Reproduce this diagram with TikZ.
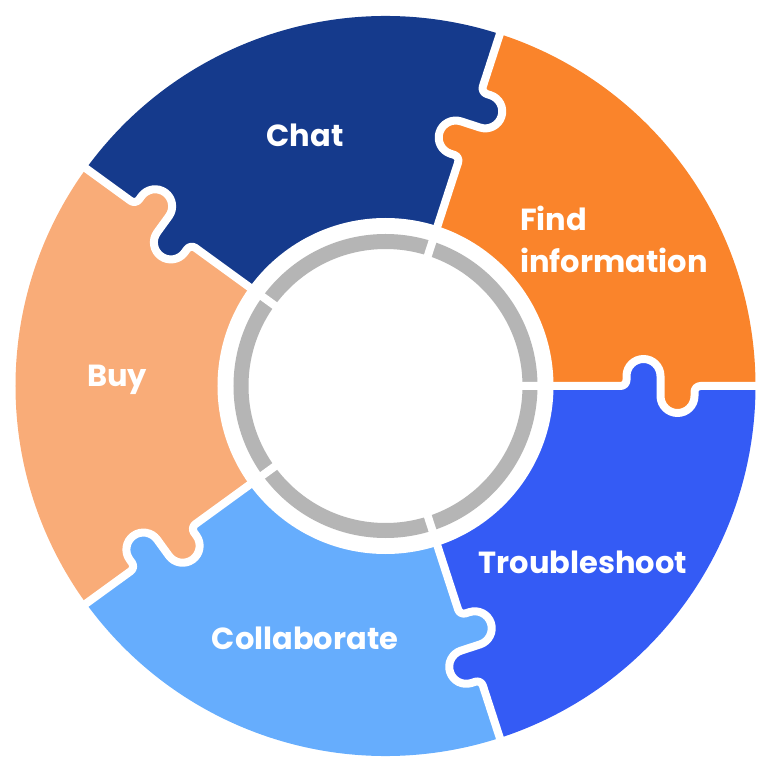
\documentclass[tikz,border=0pt]{standalone}
\usepackage{fontspec}
\setmainfont{Poppins}
\definecolor{navyC}{RGB}{21,58,140}
\definecolor{orangeC}{RGB}{250,132,43}
\definecolor{blueC}{RGB}{52,91,245}
\definecolor{lightC}{RGB}{102,173,253}
\definecolor{peachC}{RGB}{249,172,120}
\definecolor{ringC}{RGB}{181,181,181}
\begin{document}
\begin{tikzpicture}[x=1pt,y=1pt,
  lbl/.style={text=white,font=\fontsize{30.5}{42}\selectfont\bfseries,inner sep=0pt},
  seamline/.style={draw=white,line width=8pt,line join=round}]
\useasboundingbox (-385.5,-382) rectangle (382.5,386);
% sectors
\foreach \a/\c in {0/orangeC,72/navyC,144/peachC,216/lightC,288/blueC}{
  \fill[\c] (0,0) -- (\a:370) arc[start angle=\a,end angle=\a+72,radius=370] -- cycle;
}
% puzzle bulges
\foreach \a/\hi/\lo in {0/orangeC/blueC,72/navyC/orangeC,144/peachC/navyC,216/lightC/peachC,288/blueC/lightC}{
  \begin{scope}[rotate=\a]
    \fill[\hi] (275,1) -- (275,-10) arc[start angle=180,end angle=360,radius=17] -- (309,1) -- cycle;
    \fill[\lo] (241,-1) -- (241,10) arc[start angle=180,end angle=0,radius=17] -- (275,-1) -- cycle;
  \end{scope}
}
% inner white disc and grey ring
\fill[white] (0,0) circle[radius=168];
\draw[ringC,line width=15pt] (0,0) circle[radius=144.5];
% seams
\foreach \a in {0,72,144,216,288}{
  \begin{scope}[rotate=\a]
    \draw[seamline] (380,0) -- (315,0) arc[start angle=90,end angle=180,radius=6]
      -- (309,-10) arc[start angle=0,end angle=-180,radius=17]
      -- (275,10) arc[start angle=0,end angle=180,radius=17]
      -- (241,6) arc[start angle=0,end angle=-90,radius=6] -- (130,0);
  \end{scope}
}
% labels
\node[lbl] (chat) at (-80.5,251) {Chat};
\node[lbl,align=left,anchor=west] (find) at (134.5,147) {Find\\information};
\node[lbl] (buy) at (-268.5,6) {Buy};
\node[lbl] (trouble) at (197.5,-176) {Troubleshoot};
\node[lbl] (collab) at (-80.5,-252) {Collaborate};
\end{tikzpicture}
\end{document}
